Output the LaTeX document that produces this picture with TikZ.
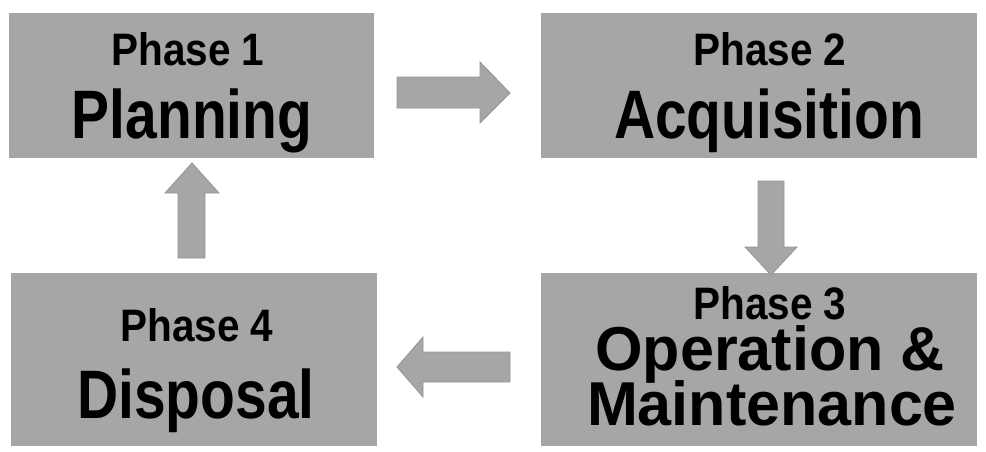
\documentclass[tikz,border=0pt]{standalone}
\usepackage{fontspec}
\newfontfamily\mgsmall[FakeStretch=0.89]{Liberation Sans}
\newfontfamily\mgbig[FakeStretch=0.83]{Liberation Sans}
\newfontfamily\mgmid[FakeStretch=0.985]{Liberation Sans}
\definecolor{boxgray}{HTML}{A6A6A6}
\definecolor{arrowedge}{HTML}{959595}
\begin{document}
\begin{tikzpicture}[x=1pt,y=-1pt,
  phasebox/.style={fill=boxgray,draw=none},
  small/.style={font=\mgsmall\bfseries\fontsize{45.5}{50}\selectfont,anchor=base,inner sep=0pt},
  big/.style={font=\mgbig\bfseries\fontsize{68.6}{75}\selectfont,anchor=base,inner sep=0pt},
  mid/.style={font=\mgmid\bfseries\fontsize{62}{68}\selectfont,anchor=base,inner sep=0pt},
  blockarrow/.style={fill=boxgray,draw=arrowedge,line width=0.8pt,line join=miter}]
\useasboundingbox[fill=white] (0,0) rectangle (986,451);
% boxes
\path[phasebox] (9,13) rectangle (374,158);
\path[phasebox] (541,13) rectangle (977,158);
\path[phasebox] (541,273) rectangle (977,446);
\path[phasebox] (11,273) rectangle (377,446);
% texts
\node[small] (p1) at (188,65) {Phase 1};
\node[big] (t1) at (192,138) {Planning};
\node[small] (p2) at (770,65) {Phase 2};
\node[big] (t2) at (769,138) {Acquisition};
\node[small] (p3) at (770,319) {Phase 3};
\node[mid] (t3a) at (770,370) {Operation \&};
\node[mid] (t3b) at (772,425) {Maintenance};
\node[small] (p4) at (197,341) {Phase 4};
\node[big] (t4) at (196,418) {Disposal};
% block arrows
\draw[blockarrow] (397,77) -- (480,77) -- (480,62) -- (510,93) -- (480,123) -- (480,108) -- (397,108) -- cycle;
\draw[blockarrow] (758,181) -- (784,181) -- (784,247) -- (797,247) -- (771,275) -- (745,247) -- (758,247) -- cycle;
\draw[blockarrow] (178,258) -- (205,258) -- (205,193) -- (219,193) -- (192,163) -- (165,193) -- (178,193) -- cycle;
\draw[blockarrow] (510,352) -- (423,352) -- (423,337) -- (397,367) -- (423,397) -- (423,382) -- (510,382) -- cycle;
\end{tikzpicture}
\end{document}
